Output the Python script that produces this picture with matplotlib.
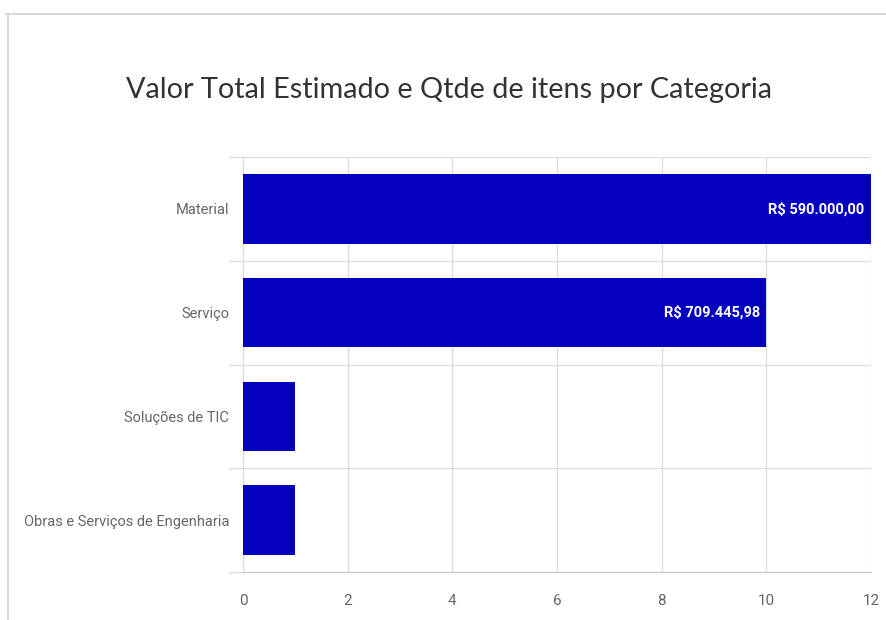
import matplotlib.pyplot as plt
from matplotlib.lines import Line2D

# dados do gráfico
categorias = ['Material', 'Serviço', 'Soluções de TIC', 'Obras e Serviços de Engenharia']
qtde_itens = [12, 10, 1, 1]
rotulos = ['R$ 590.000,00', 'R$ 709.445,98', '', '']
ticks_x = [0, 2, 4, 6, 8, 10, 12]

cor_barra = '#0500BF'
cor_grade = '#dddddd'
fonte_ticks = ['Roboto', 'DejaVu Sans']

fig = plt.figure(figsize=(8.86, 6.2), dpi=100)
ax = fig.add_axes([243 / 886, 1 - 572 / 620, 628 / 886, 415 / 620])

pos = list(range(len(categorias)))
barras = ax.barh(pos, qtde_itens, height=0.67, color=cor_barra, zorder=3)

for b, txt in zip(barras, rotulos):
    if txt:
        ax.text(b.get_width() - 0.12, b.get_y() + b.get_height() / 2, txt,
                ha='right', va='center', color='white', fontsize=10.5,
                fontweight='bold', family=fonte_ticks, zorder=4)

ax.set_xlim(0, 12)
ax.set_ylim(len(categorias) - 0.5, -0.5)
ax.set_xticks(ticks_x)
ax.set_yticks(pos)
ax.set_yticklabels(categorias)
ax.set_yticks([p + 0.5 for p in pos[:-1]] + [-0.5, len(categorias) - 0.5], minor=True)

ax.grid(True, axis='x', color=cor_grade, linewidth=1, zorder=0)
ax.grid(True, axis='y', which='minor', color=cor_grade, linewidth=1, zorder=0)
ax.tick_params(axis='y', which='major', length=0, pad=10, labelsize=10.5, labelcolor='#666666')
ax.tick_params(axis='y', which='minor', length=10, color=cor_grade, width=1)
ax.tick_params(axis='x', length=0, pad=16, labelsize=11, labelcolor='#666666')
for lab in ax.get_xticklabels() + ax.get_yticklabels():
    lab.set_family(fonte_ticks)

for lado in ['top', 'right', 'left']:
    ax.spines[lado].set_visible(False)
ax.spines['bottom'].set_color('#cccccc')

# moldura do cartão
fig.add_artist(Line2D([6 / 886, 1], [1 - 14 / 620] * 2, color='#d9d9d9', linewidth=1.5))
fig.add_artist(Line2D([8 / 886] * 2, [0, 1 - 14 / 620], color='#d9d9d9', linewidth=1.5))

fig.text(449.5 / 886, 1 - 90 / 620, 'Valor Total Estimado e Qtde de itens por Categoria',
         ha='center', va='center', fontsize=20.8, color='#333333',
         family=['Lato', 'DejaVu Sans'])

fig.savefig('out.png', dpi=100)
